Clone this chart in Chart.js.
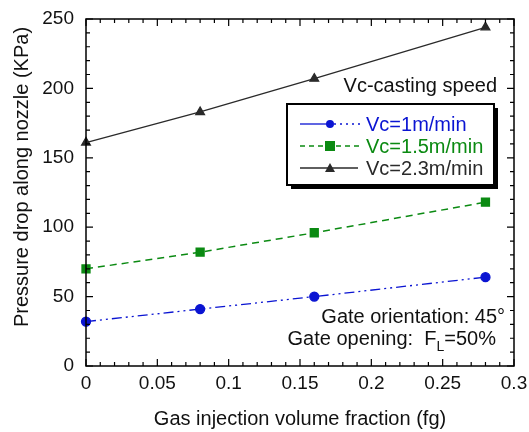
<!DOCTYPE html>
<html>
<head>
<meta charset="utf-8">
<script src="https://cdn.jsdelivr.net/npm/chart.js@4"></script>
<style>
  html, body { margin: 0; padding: 0; background: #fff; }
  #wrap { width: 529px; height: 432px; }
</style>
</head>
<body>
<div id="wrap"><canvas id="canvas" width="529" height="432"></canvas></div>
<script>
// datos
var gasFraction = [0, 0.08, 0.16, 0.28];
var vc1 = [32, 41, 50, 64];
var vc15 = [70, 82, 96, 118];
var vc23 = [161, 183, 207, 244];
var seriesLabels = ["Vc=1m/min", "Vc=1.5m/min", "Vc=2.3m/min"];

var FONT = "'Liberation Sans', Arial, sans-serif";
var BLUE = "#0a14d2";
var GREEN = "#0b8a12";
var BLACK = "#2a2a2a";

function toPoints(ys) {
    return gasFraction.map(function (x, i) { return { x: x, y: ys[i] }; });
}

/**
 * Marcas hacia dentro en los cuatro lados, marco, título y, leyenda con sombra
 */
var framePlugin = {
    id: 'frame',
    afterDraw: function (chart) {
        var ctx = chart.ctx;
        var a = chart.chartArea;
        var xs = chart.scales.x, ys = chart.scales.y;
        ctx.save();
        ctx.strokeStyle = '#000';
        ctx.lineWidth = 1.5;
        ctx.strokeRect(a.left, a.top, a.right - a.left, a.bottom - a.top);

        ctx.lineWidth = 1.2;
        ctx.beginPath();
        // eje x: mayor cada 0.05, menor cada 0.01
        for (var i = 0; i <= 30; i++) {
            var px = xs.getPixelForValue(i / 100);
            var len = (i % 5 === 0) ? 7 : 4;
            ctx.moveTo(px, a.bottom); ctx.lineTo(px, a.bottom - len);
            ctx.moveTo(px, a.top); ctx.lineTo(px, a.top + len);
        }
        // eje y: mayor cada 50, menor cada 10
        for (var v = 0; v <= 250; v += 10) {
            var py = ys.getPixelForValue(v);
            var l2 = (v % 50 === 0) ? 7 : 4;
            ctx.moveTo(a.left, py); ctx.lineTo(a.left + l2, py);
            ctx.moveTo(a.right, py); ctx.lineTo(a.right - l2, py);
        }
        ctx.stroke();

        // título del eje y (algo más arriba que el centro, como el original)
        ctx.save();
        ctx.translate(22, 177);
        ctx.rotate(-Math.PI / 2);
        ctx.font = '20px ' + FONT;
        ctx.fillStyle = '#111';
        ctx.textAlign = 'center';
        ctx.textBaseline = 'middle';
        ctx.fillText('Pressure drop along nozzle (KPa)', 0, 0);
        ctx.restore();

        // leyenda
        var bx = 287, by = 104, bw = 207, bh = 81;
        ctx.fillStyle = '#000';
        ctx.fillRect(bx + 4, by + 4, bw, bh);
        ctx.fillStyle = '#fff';
        ctx.fillRect(bx, by, bw, bh);
        ctx.lineWidth = 2;
        ctx.strokeStyle = '#000';
        ctx.strokeRect(bx, by, bw, bh);

        var rows = [124, 146, 168];
        var colors = [BLUE, GREEN, BLACK];
        ctx.font = '20px ' + FONT;
        ctx.textBaseline = 'middle';
        ctx.textAlign = 'left';
        for (var r = 0; r < 3; r++) {
            var yy = rows[r];
            ctx.strokeStyle = colors[r];
            ctx.lineWidth = 1.3;
            if (r === 0) {
                ctx.setLineDash([]);
                ctx.beginPath(); ctx.moveTo(300, yy); ctx.lineTo(327, yy); ctx.stroke();
                ctx.setLineDash([2, 4]);
                ctx.beginPath(); ctx.moveTo(334, yy); ctx.lineTo(360, yy); ctx.stroke();
            } else if (r === 1) {
                ctx.setLineDash([5, 4]);
                ctx.beginPath(); ctx.moveTo(300, yy); ctx.lineTo(360, yy); ctx.stroke();
            } else {
                ctx.setLineDash([]);
                ctx.beginPath(); ctx.moveTo(300, yy); ctx.lineTo(358, yy); ctx.stroke();
            }
            ctx.setLineDash([]);
            ctx.fillStyle = colors[r];
            ctx.beginPath();
            if (r === 0) {
                ctx.arc(330, yy, 4, 0, Math.PI * 2);
            } else if (r === 1) {
                ctx.rect(325, yy - 5, 10, 10);
            } else {
                ctx.moveTo(330, yy - 5); ctx.lineTo(335, yy + 4); ctx.lineTo(325, yy + 4); ctx.closePath();
            }
            ctx.fill();
            ctx.fillText(seriesLabels[r], 366, yy + 1);
        }

        // textos
        ctx.fillStyle = '#111';
        ctx.textAlign = 'right';
        ctx.font = '20px ' + FONT;
        ctx.fillText('Vc-casting speed', 497, 86);
        ctx.fillText('Gate orientation: 45°', 505, 317);

        // "Gate opening:  F_L=50%" alineado a la derecha
        var p1 = 'Gate opening:  F', p3 = '=50%';
        ctx.textAlign = 'left';
        var w1 = ctx.measureText(p1).width, w3 = ctx.measureText(p3).width;
        ctx.font = '14px ' + FONT;
        var w2 = ctx.measureText('L').width;
        var x0 = 496 - (w1 + w2 + w3);
        ctx.font = '20px ' + FONT;
        ctx.fillText(p1, x0, 339);
        ctx.font = '14px ' + FONT;
        ctx.fillText('L', x0 + w1, 347);
        ctx.font = '20px ' + FONT;
        ctx.fillText(p3, x0 + w1 + w2, 339);
        ctx.restore();
    }
};

var chart = new Chart(document.getElementById("canvas"), {
    type: 'line',
    data: {
        datasets: [{
            data: toPoints(vc1),
            label: seriesLabels[0],
            borderColor: BLUE,
            backgroundColor: BLUE,
            borderWidth: 1.3,
            borderDash: [10, 4, 2, 4, 2, 4],
            pointStyle: 'circle',
            pointRadius: 4.5
        }, {
            data: toPoints(vc15),
            label: seriesLabels[1],
            borderColor: GREEN,
            backgroundColor: GREEN,
            borderWidth: 1.5,
            borderDash: [7, 5],
            pointStyle: 'rect',
            pointRadius: 5.5
        }, {
            data: toPoints(vc23),
            label: seriesLabels[2],
            borderColor: BLACK,
            backgroundColor: BLACK,
            borderWidth: 1.3,
            pointStyle: 'triangle',
            pointRadius: 5
        }]
    },
    options: {
        responsive: false,
        animation: false,
        clip: false,
        layout: { padding: { top: 19, right: 15, left: 0, bottom: 0 } },
        plugins: {
            legend: { display: false },
            tooltip: { enabled: false }
        },
        scales: {
            x: {
                type: 'linear',
                min: 0,
                max: 0.3,
                grid: { display: false, drawTicks: false },
                border: { display: false },
                ticks: {
                    stepSize: 0.05,
                    padding: 6,
                    color: '#111',
                    font: { family: FONT, size: 19 },
                    maxRotation: 0,
                    callback: function (v) { return String(+v.toFixed(2)); }
                },
                title: {
                    display: true,
                    text: 'Gas injection volume fraction (fg)',
                    color: '#111',
                    font: { family: FONT, size: 20 },
                    padding: { top: 4, bottom: 1 }
                },
                afterFit: function (s) {
                    s.height = 66;
                    s.paddingLeft = 0;
                    s.paddingRight = 0;
                }
            },
            y: {
                min: 0,
                max: 250,
                grid: { display: false, drawTicks: false },
                border: { display: false },
                ticks: {
                    stepSize: 50,
                    padding: 12,
                    color: '#111',
                    font: { family: FONT, size: 19 }
                },
                title: { display: false },
                afterFit: function (s) {
                    s.width = 86;
                    s.paddingTop = 0;
                    s.paddingBottom = 0;
                }
            }
        }
    },
    plugins: [framePlugin]
});
</script>
</body>
</html>
